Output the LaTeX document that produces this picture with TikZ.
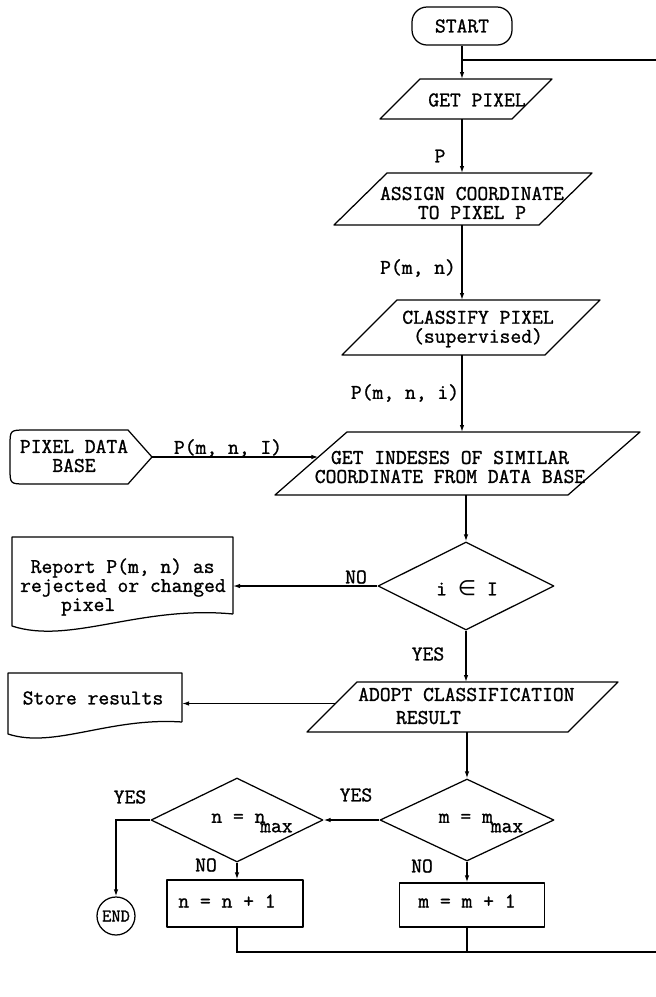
\documentclass[tikz,border=0pt]{standalone}
\usepackage{fontspec}
\setmonofont{lmmono12-regular.otf}[FakeBold=1.2]
\newfontfamily\symfont{DejaVu Sans}
\usetikzlibrary{arrows.meta,shapes.geometric,calc}
\newcommand{\paral}[6]{%
  \node[ghost, minimum width=#4pt, minimum height=#5pt] (#1) at (#2,#3) {};
  \draw[box] ([xshift=#6pt]#1.north west) -- ([xshift=#6pt]#1.north east)
    -- ([xshift=-#6pt]#1.south east) -- ([xshift=-#6pt]#1.south west) -- cycle;}
\begin{document}
\begin{tikzpicture}[x=1pt,y=-1pt,
  box/.style={draw, line width=1.25pt, line join=round},
  ghost/.style={inner sep=0pt, outer sep=0pt},
  txt/.style={font=\fontsize{21}{19}\selectfont\ttfamily, inner sep=0pt, align=center},
  conn/.style={line width=1.25pt},
  arr/.style={conn, -{Latex[length=7pt,width=4.5pt]}}]
\fill[white] (0,0) rectangle (656,997);
\useasboundingbox (0,0) rectangle (656,997);

% ---------- shapes ----------
\node[box, rounded corners=15pt, minimum width=100pt, minimum height=38pt, txt] (start) at (462,26) {START};

\paral{getpix}{466}{99}{132}{40}{20}
\node[txt] (getpix-t) at (477,100) {GET PIXEL};

\paral{assign}{463}{199}{205}{52}{26.5}
\node[txt] (assign-t) at (472,203) {ASSIGN COORDINATE\\TO PIXEL P};

\paral{classify}{471}{327.5}{203}{55}{27.5}
\node[txt] (classify-t) at (478,329) {CLASSIFY PIXEL\\(supervised)};

\paral{gi}{457.5}{463.5}{293}{63}{36}
\node[txt] (gi-t) at (450,467) {GET INDESES OF SIMILAR\\COORDINATE FROM DATA BASE};

\node[ghost, minimum width=142pt, minimum height=54pt] (pdb) at (81,457) {};
\draw[box] ([xshift=-24pt]pdb.north east) -- (pdb.east) -- ([xshift=-24pt]pdb.south east)
  -- ([xshift=16pt]pdb.south west) .. controls (pdb.south west) .. ([yshift=16pt]pdb.south west)
  -- ([yshift=-16pt]pdb.north west) .. controls (pdb.north west) .. ([xshift=16pt]pdb.north west) -- cycle;
\node[txt] (pdb-t) at (74,456) {PIXEL DATA\\BASE};

\node[box, diamond, minimum width=176pt, minimum height=88pt, inner sep=0pt] (dec1) at (466,586) {};
\node[txt] (dec1-t) at (467,588) {i {\symfont ∈} I};

\node[ghost, minimum width=221pt, minimum height=89pt] (report) at (122.5,581.5) {};
\draw[box] ([yshift=12pt]report.south east) -- (report.north east) -- (report.north west) -- (report.south west)
  .. controls ([xshift=58pt,yshift=-19pt]report.south west) and ([xshift=-93pt,yshift=21pt]report.south east) .. ([yshift=12pt]report.south east);
\node[txt, align=left, anchor=west] (report-t) at (20,587) {\hspace*{0.5em}Report P(m, n) as\\rejected or changed\\\hspace*{1.95em}pixel};

\paral{adopt}{462.5}{707}{261}{50}{25}
\node[txt, align=left, anchor=west] (adopt-t) at (358,706) {ADOPT CLASSIFICATION\\[4pt]\hspace*{1.8em}RESULT};

\node[ghost, minimum width=174pt, minimum height=61pt] (store) at (95,703.5) {};
\draw[box] ([yshift=12pt]store.south east) -- (store.north east) -- (store.north west) -- (store.south west)
  .. controls ([xshift=46pt,yshift=-15pt]store.south west) and ([xshift=-73pt,yshift=17pt]store.south east) .. ([yshift=12pt]store.south east);
\node[txt] (store-t) at (93,698) {Store results};

\node[box, diamond, minimum width=174pt, minimum height=82pt, inner sep=0pt] (dec2) at (467,820) {};
\node[txt] (dec2-t) at (481,823) {m = m\kern-0.1em\raisebox{-0.45em}{max}};

\node[box, diamond, minimum width=172pt, minimum height=84pt, inner sep=0pt] (dec3) at (237,820) {};
\node[txt] (dec3-t) at (252,823) {n = n\kern-0.25em\raisebox{-0.45em}{max}};

\node[box, minimum width=145pt, minimum height=44pt, inner sep=0pt] (mbox) at (472,905) {};
\node[txt] (mbox-t) at (467,901) {m = m + 1};

\node[box, minimum width=136pt, minimum height=47pt, inner sep=0pt] (nbox) at (235,903.5) {};
\node[txt] (nbox-t) at (227,901) {n = n + 1};

\node[box, circle, minimum size=38pt, inner sep=0pt, font=\fontsize{18}{18}\selectfont\ttfamily] (endn) at (116,916) {END};

% ---------- labels ----------
\node[txt] (l-p) at (440,156) {P};
\node[txt] (l-pmn) at (418,268) {P(m, n)};
\node[txt] (l-pmni) at (405,393) {P(m, n, i)};
\node[txt] (l-pmnI) at (228,448) {P(m, n, I)};
\node[txt] (l-no1) at (356,577) {NO};
\node[txt] (l-yes1) at (428,654) {YES};
\node[txt] (l-yes2) at (356,795) {YES};
\node[txt] (l-yes3) at (130,797) {YES};
\node[txt] (l-no2) at (206,865) {NO};
\node[txt] (l-no3) at (422,866) {NO};

% ---------- connectors ----------
% the return line runs along the cropped right edge of the figure
\coordinate (loopR) at (660,952);
\coordinate (loopT) at (660,60);
\draw[arr] (start.south) -- (start.south |- getpix.north);
\draw[conn] (dec3.south |- nbox.south) |- (loopR) -- (loopT) -- (loopT -| start.south);
\draw[conn] (dec2.south |- mbox.south) -- (dec2.south |- loopR);
\draw[arr] (getpix.south -| start.south) -- (assign.north -| start.south);
\draw[arr] (assign.south -| start.south) -- (classify.north -| start.south);
\draw[arr] (classify.south -| start.south) -- (gi.north -| start.south);
\draw[arr] (pdb.east) -- ([xshift=7.4pt,yshift=6.5pt]gi.west);
\draw[arr] (dec1.north |- gi.south) -- (dec1.north);
\draw[arr] (dec1.west) -- (dec1.west -| report.east);
\draw[arr] (dec1.south) -- (dec1.south |- adopt.north);
\draw[arr] ([xshift=3.5pt,yshift=3.5pt]adopt.west) -- (store.east);
\draw[arr] (dec2.north |- adopt.south) -- (dec2.north);
\draw[arr] (dec2.west) -- (dec3.east);
\draw[arr] (dec2.south) -- (dec2.south |- mbox.north);
\draw[arr] (dec3.south) -- (dec3.south |- nbox.north);
\draw[arr] (dec3.west) -| (endn.north);
\end{tikzpicture}
\end{document}
